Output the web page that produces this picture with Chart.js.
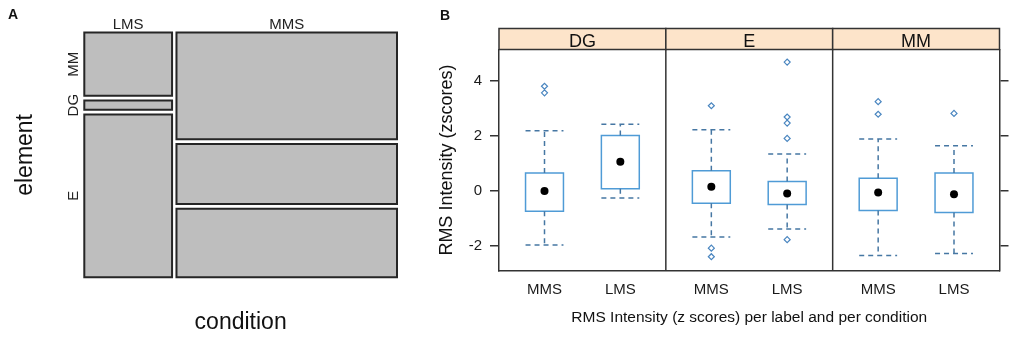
<!DOCTYPE html>
<html>
<head>
<meta charset="utf-8">
<script src="https://cdn.jsdelivr.net/npm/chart.js@4.4.1/dist/chart.umd.min.js"></script>
<style>
  html, body { margin: 0; padding: 0; background: #fff; }
  #wrap { position: relative; width: 1021px; height: 339px; overflow: hidden; font-family: "Liberation Sans", Arial, sans-serif; }
  canvas { position: absolute; top: 0; }
  #mosaic { left: 0; }
  #boxes { left: 420px; }
  .tag { position: absolute; font-weight: bold; font-size: 14px; color: #111; }
</style>
</head>
<body>
<div id="wrap">
  <canvas id="mosaic" width="420" height="339"></canvas>
  <canvas id="boxes" width="601" height="339"></canvas>
  <div class="tag" style="left:8px;top:6px">A</div>
  <div class="tag" style="left:440px;top:7px">B</div>
</div>
<script>
// panel A: counts of element per condition (mosaic)
var conditions = ['LMS', 'MMS'];
var elements = ['MM', 'DG', 'E'];
var countsLMS = [21, 3, 54];
var countsMMS = [89, 50, 57];

// panel B: RMS intensity (z scores), one box per label x condition
var panels = ['DG', 'E', 'MM'];
var groups = ['MMS', 'LMS'];
var whiskerLow  = [-1.97, -0.26, -1.68, -1.39, -2.36, -2.28];
var boxLow      = [-0.74,  0.08, -0.45, -0.50, -0.72, -0.79];
var medians     = [-0.01,  1.06,  0.15, -0.10, -0.06, -0.12];
var boxHigh     = [ 0.65,  2.02,  0.73,  0.34,  0.46,  0.65];
var whiskerHigh = [ 2.19,  2.43,  2.23,  1.34,  1.89,  1.64];
var outliers = [[3.81, 3.57], [], [3.10, -2.09, -2.40], [4.69, 2.69, 2.47, 1.91, -1.78], [3.25, 2.79], [2.82]];
var yTicks = [-2, 0, 2, 4];

Chart.defaults.font.family = '"Liberation Sans", Arial, sans-serif';

// ---------- A: mosaic ----------
var countsByCondition = [countsLMS, countsMMS];
var gapX = 0.0143, gapY = 0.0202;
var colTotals = countsByCondition.map(c => c.reduce((a, b) => a + b, 0));
var grand = colTotals.reduce((a, b) => a + b, 0);
var xMaxA = 1 + gapX * (conditions.length - 1);
var yMaxA = 1 + gapY * (elements.length - 1);

var tiles = [], colCenters = [], rowCenters = [];
var left = 0;
countsByCondition.forEach(function(counts, c) {
  var w = colTotals[c] / grand;
  var top = yMaxA;
  counts.forEach(function(n) {
    var h = n / colTotals[c];
    tiles.push({x0: left, x1: left + w, y0: top - h, y1: top});
    if (c === 0) rowCenters.push(top - h / 2);
    top -= h + gapY;
  });
  colCenters.push(left + w / 2);
  left += w + gapX;
});

new Chart(document.getElementById('mosaic').getContext('2d'), {
  type: 'line',
  data: {
    datasets: tiles.map(t => ({
      data: [{x: t.x0, y: t.y0}, {x: t.x1, y: t.y0}, {x: t.x1, y: t.y1}, {x: t.x0, y: t.y1}, {x: t.x0, y: t.y0}],
      fill: 'shape',
      clip: false,
      backgroundColor: '#bebebe',
      borderColor: '#262626',
      borderWidth: 2,
      borderCapStyle: 'square',
      borderJoinStyle: 'miter',
      pointRadius: 0
    }))
  },
  options: {
    responsive: false,
    animation: false,
    events: [],
    layout: {padding: {left: 0, right: 23, top: 0, bottom: 0}},
    plugins: {legend: {display: false}, tooltip: {enabled: false}},
    scales: {
      x: {
        type: 'linear', position: 'bottom', min: 0, max: xMaxA, bounds: 'data',
        afterFit: s => { s.height = 61.7; },
        ticks: {display: false},
        grid: {display: false, drawTicks: false},
        border: {display: false},
        title: {display: true, text: 'condition', color: '#111', font: {size: 23}, padding: {top: 0, bottom: 3}}
      },
      xTop: {
        type: 'linear', position: 'top', min: 0, max: xMaxA, bounds: 'data',
        afterBuildTicks: s => { s.ticks = colCenters.map(v => ({value: v})); },
        afterFit: s => { s.height = 32.5; },
        ticks: {autoSkip: false, maxRotation: 0, padding: -1, color: '#222', font: {size: 15},
                callback: (v, i) => conditions[i]},
        grid: {display: false, drawTicks: false},
        border: {display: false}
      },
      y: {
        type: 'linear', position: 'left', min: 0, max: yMaxA, bounds: 'data',
        afterBuildTicks: s => { s.ticks = rowCenters.map(v => ({value: v})); },
        afterFit: s => { s.width = 84.3; },
        ticks: {autoSkip: false, minRotation: 90, maxRotation: 90, crossAlign: 'center', padding: -2,
                color: '#222', font: {size: 15}, callback: (v, i) => elements[i]},
        grid: {display: false, drawTicks: false},
        border: {display: false},
        title: {display: true, text: 'element', color: '#111', font: {size: 23}, padding: {top: 12, bottom: 0}}
      }
    }
  }
});

// ---------- B: box and whisker panels ----------
var panelSpan = 2.2, firstPos = 0.6, boxHalf = 0.25, stripHeight = 21;
var xAt = i => Math.floor(i / groups.length) * panelSpan + firstPos + (i % groups.length);
var gap = x => ({x: x, y: null});

var boxPts = medians.flatMap(function(m, i) {
  var x = xAt(i);
  return [{x: x - boxHalf, y: boxLow[i]}, {x: x + boxHalf, y: boxLow[i]}, {x: x + boxHalf, y: boxHigh[i]},
          {x: x - boxHalf, y: boxHigh[i]}, {x: x - boxHalf, y: boxLow[i]}, gap(x)];
});
var whiskerPts = medians.flatMap(function(m, i) {
  var x = xAt(i);
  return [{x: x, y: boxHigh[i]}, {x: x, y: whiskerHigh[i]}, gap(x),
          {x: x - boxHalf, y: whiskerHigh[i]}, {x: x + boxHalf, y: whiskerHigh[i]}, gap(x),
          {x: x, y: boxLow[i]}, {x: x, y: whiskerLow[i]}, gap(x),
          {x: x - boxHalf, y: whiskerLow[i]}, {x: x + boxHalf, y: whiskerLow[i]}, gap(x)];
});
var medianPts = medians.map((m, i) => ({x: xAt(i), y: m}));
var outlierPts = outliers.flatMap((list, i) => list.map(v => ({x: xAt(i), y: v})));

var stripPlugin = {
  id: 'strips',
  afterDraw: function(chart) {
    var ctx = chart.ctx, area = chart.chartArea, x = chart.scales.x;
    var top = area.top - stripHeight;
    ctx.save();
    ctx.strokeStyle = '#333';
    ctx.lineWidth = 1.5;
    panels.forEach(function(name, p) {
      var l = x.getPixelForValue(p * panelSpan), r = x.getPixelForValue((p + 1) * panelSpan);
      ctx.fillStyle = '#fde4ca';
      ctx.fillRect(l, top, r - l, stripHeight);
      ctx.strokeRect(l, top, r - l, stripHeight);
      ctx.fillStyle = '#111';
      ctx.font = '18px "Liberation Sans", Arial, sans-serif';
      ctx.textAlign = 'center';
      ctx.textBaseline = 'alphabetic';
      ctx.fillText(name, (l + r) / 2, area.top - 3);
      if (p > 0) {
        ctx.beginPath();
        ctx.moveTo(l, area.top);
        ctx.lineTo(l, area.bottom);
        ctx.stroke();
      }
    });
    ctx.restore();
  }
};

var yAxisBase = {
  type: 'linear', min: -2.91, max: 5.15, bounds: 'data',
  afterBuildTicks: s => { s.ticks = yTicks.map(v => ({value: v})); },
  grid: {drawOnChartArea: false, drawTicks: true, tickLength: 9, color: '#333', lineWidth: 1.5},
  border: {color: '#333', width: 1.5}
};

new Chart(document.getElementById('boxes').getContext('2d'), {
  type: 'line',
  data: {
    datasets: [
      {data: whiskerPts, borderColor: '#4677a3', borderWidth: 1.5, borderDash: [5, 4], pointRadius: 0, fill: false},
      {data: boxPts, borderColor: '#4f9bd6', borderWidth: 1.5, borderCapStyle: 'square', pointRadius: 0, fill: false},
      {data: medianPts, showLine: false, pointStyle: 'circle', pointRadius: 4, pointBackgroundColor: '#000', pointBorderWidth: 0},
      {data: outlierPts, showLine: false, pointStyle: 'rectRot', pointRadius: 3, pointBackgroundColor: 'rgba(0,0,0,0)',
       pointBorderColor: '#4a86c0', pointBorderWidth: 1.2}
    ]
  },
  options: {
    responsive: false,
    animation: false,
    events: [],
    layout: {padding: {left: 0, right: 0, top: 49.5, bottom: 0}},
    plugins: {legend: {display: false}, tooltip: {enabled: false}},
    scales: {
      x: {
        type: 'linear', position: 'bottom', min: 0, max: panels.length * panelSpan, bounds: 'data',
        afterBuildTicks: s => { s.ticks = medians.map((m, i) => ({value: xAt(i)})); },
        afterFit: s => { s.height = 68.3; },
        ticks: {autoSkip: false, maxRotation: 0, padding: 10, color: '#1a1a1a', font: {size: 15},
                callback: (v, i) => groups[i % groups.length]},
        grid: {display: false, drawTicks: false},
        border: {display: true, color: '#333', width: 1.5},
        title: {display: true, text: 'RMS Intensity (z scores) per label and per condition', color: '#111',
                font: {size: 15.5}, padding: {top: 0, bottom: 11.6}}
      },
      y: Object.assign({}, yAxisBase, {
        position: 'left',
        afterFit: s => { s.width = 79; },
        ticks: {padding: 8, color: '#1a1a1a', font: {size: 15}},
        title: {display: true, text: 'RMS Intensity (zscores)', color: '#111', font: {size: 18}, padding: {top: 16, bottom: 0}}
      }),
      y2: Object.assign({}, yAxisBase, {
        position: 'right',
        afterFit: s => { s.width = 21.5; },
        ticks: {display: false}
      })
    }
  },
  plugins: [stripPlugin]
});
</script>
</body>
</html>
